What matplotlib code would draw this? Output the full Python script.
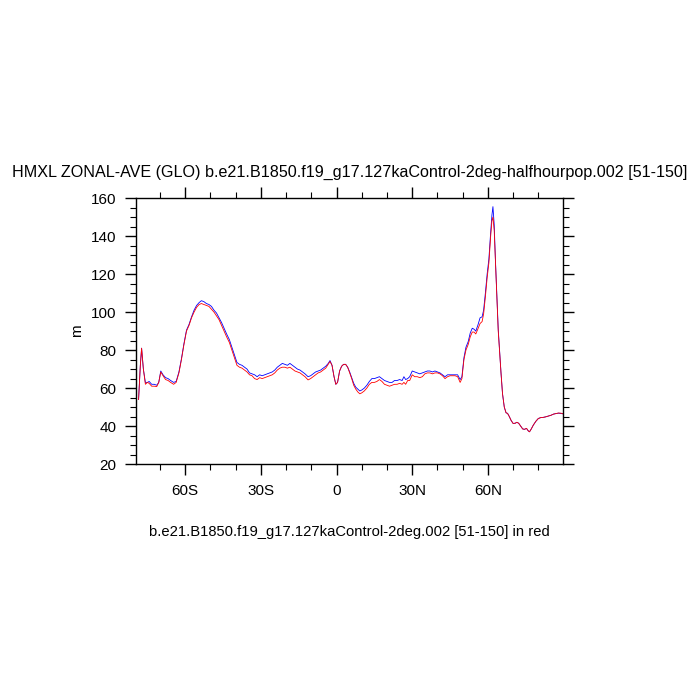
import numpy as np
import matplotlib.pyplot as plt
from matplotlib.ticker import MultipleLocator, FixedLocator

plt.rcParams['font.family'] = ['Liberation Sans', 'DejaVu Sans']

# ── данные: зональное среднее HMXL, м ─────────────────────────────────────
lat = [-78.5, -77.8, -77.3, -76.6, -75.8, -75.0, -74.3, -73.3, -72.3, -71.3,
       -70.5, -69.7, -68.8, -67.8, -66.8, -65.8, -64.6, -63.6, -62.5, -61.5,
       -60.5, -59.5, -58.5, -57.5, -56.5, -55.5, -54.5, -53.6, -52.6, -51.6,
       -50.6, -49.6, -48.6, -47.6, -46.6, -45.6, -44.6, -43.6, -42.5, -41.5,
       -40.5, -39.5, -38.5, -37.5, -36.5, -35.5, -34.5, -33.5, -32.5, -31.5,
       -30.5, -29.5, -28.5, -27.5, -26.5, -25.5, -24.5, -23.5, -22.5, -21.5,
       -20.5, -19.5, -18.5, -17.5, -16.5, -15.5, -14.5, -13.5, -12.5, -11.3,
       -10.3, -9.3, -8.3, -7.3, -6.3, -5.3, -4.3, -3.3, -2.6, -1.8,
       -1.0, -0.3, 0.4, 1.2, 2.0, 2.8, 3.6, 4.4, 5.2, 6.0,
       6.8, 7.6, 8.4, 9.2, 10.0, 11.0, 12.0, 13.0, 14.0, 15.0,
       16.0, 17.0, 18.0, 19.0, 20.0, 21.0, 22.0, 23.0, 24.0, 25.0,
       26.0, 26.7, 27.4, 28.2, 29.0, 30.0, 31.0, 32.0, 33.0, 34.0,
       35.0, 36.0, 37.0, 38.0, 39.0, 40.0, 41.0, 42.0, 43.0, 44.0,
       45.0, 46.0, 47.0, 48.0, 49.0, 49.7, 50.5, 51.3, 52.2, 53.0,
       53.8, 54.5, 55.2, 56.0, 56.9, 57.7, 58.3, 59.0, 59.7, 60.4,
       61.1, 61.6, 62.0, 62.5, 63.0, 63.5, 64.1, 64.7, 65.2, 65.8,
       66.5, 67.2, 67.8, 68.5, 69.2, 70.0, 70.8, 71.5, 72.2, 73.0,
       73.8, 74.5, 75.3, 76.0, 76.5, 77.2, 78.0, 79.0, 80.0, 81.0,
       82.0, 83.0, 84.0, 85.0, 86.0, 87.0, 88.0, 89.0, 89.7]

# контрольный прогон (красный)
hmxl_ctrl = [54, 72, 81, 70, 62, 63, 62.5, 61, 61, 60.8,
             63, 68.5, 66.5, 64.5, 64, 63, 62, 63, 68, 75,
             83, 90, 93, 97, 100, 102.5, 104, 104.5, 104, 103.5,
             103, 101.5, 100, 98, 96, 93, 90, 87, 84, 80,
             76, 72, 71, 70.5, 69.5, 68.5, 67, 66.5, 65, 64.5,
             65.5, 65, 65.5, 66, 66.5, 67, 68, 69.5, 70.5, 71,
             71, 70.5, 71, 70, 69, 68.5, 68, 67, 66, 64.3,
             65, 66, 67, 68, 68.5, 69.5, 70.5, 72.5, 74, 72,
             66, 62, 63, 69, 71.5, 72.5, 72.5, 71, 68, 65,
             61.5, 59.5, 58, 57, 57.5, 58.5, 60, 62, 63, 63,
             63.5, 64.5, 63.5, 62, 61.5, 61, 61.5, 62, 62, 62.5,
             62, 63, 62, 64, 64, 67, 66, 66, 65.5, 66,
             67.5, 68, 68, 67.5, 68, 68, 67.5, 66.5, 65, 66,
             66.5, 66.5, 66.5, 66, 63, 65, 75, 80, 83, 87,
             89.5, 89.5, 88.5, 91, 94, 95, 99, 108, 118, 126,
             140, 148, 150, 143, 126, 110, 90, 78, 68, 57,
             50, 47, 46.7, 45, 43, 41.4, 41.5, 42, 41.5, 40,
             38.5, 38.3, 38.8, 37.5, 37, 38.5, 40.5, 42.5, 44, 44.5,
             44.6, 44.9, 45.3, 45.7, 46.3, 46.6, 46.9, 46.8, 46.5]

# прогон halfhourpop (синий)
hmxl_hhp = [54, 72, 81, 70, 63, 63, 63.5, 62, 62, 61.5,
            63, 69, 67, 65.5, 65, 64, 63, 63.5, 68.5, 75.5,
            83.5, 90.5, 93.5, 97.5, 101, 103.5, 105, 106, 105.5, 104.5,
            104, 103, 101, 99.5, 97, 94.5, 91.5, 88.5, 85.5, 81.5,
            77.5, 73.5, 72.5, 72, 71, 70, 68, 67.5, 67, 66,
            67, 66.5, 67, 67.5, 68, 68.5, 69.5, 71, 72, 73,
            72.5, 72, 73, 72, 71, 70, 69.5, 68.5, 67.5, 66,
            66.5, 67.5, 68.5, 69, 69.5, 70.5, 71.5, 73, 74.5, 72,
            66, 62, 63, 69, 71.5, 72.5, 72.5, 71, 68.5, 65.5,
            62.5, 60.5, 59.5, 58.5, 59, 60, 61.5, 63.5, 65, 65,
            65.5, 66, 65, 64, 63.5, 63, 63, 64, 64, 64.5,
            64, 66, 64.5, 65, 66, 69, 68.5, 68, 67.5, 68,
            68.5, 69, 69, 68.5, 69, 68.5, 68, 67, 66, 67,
            67, 67, 67, 67, 64.5, 66, 76, 81.5, 84.5, 89,
            91.5, 91, 90, 93, 97, 97.5, 101, 110, 120, 128,
            142, 151, 155.5, 146, 127, 111, 91, 78, 68, 57,
            50, 47, 46.7, 45, 43, 41.4, 41.5, 42, 41.5, 40,
            38.5, 38.3, 38.8, 37.5, 37, 38.5, 40.5, 42.5, 44, 44.5,
            44.6, 44.9, 45.3, 45.7, 46.3, 46.6, 46.8, 46.6, 46.5]

xticks = [-60, -30, 0, 30, 60]
xtick_labels = ['60S', '30S', '0', '30N', '60N']
yticks = [20, 40, 60, 80, 100, 120, 140, 160]

fig = plt.figure(figsize=(7, 7), dpi=100)
ax = fig.add_axes([0.194, 0.337, 0.610, 0.380])

ax.plot(lat, hmxl_hhp, color='blue', lw=0.6)
ax.plot(lat, hmxl_ctrl, color='red', lw=0.6)

ax.set_xlim(-79.6, 89.7)
ax.set_ylim(20, 160)
ax.xaxis.set_major_locator(FixedLocator(xticks))
ax.set_xticklabels(xtick_labels)
ax.xaxis.set_minor_locator(MultipleLocator(10))
ax.yaxis.set_major_locator(FixedLocator(yticks))
ax.yaxis.set_minor_locator(MultipleLocator(5))

ax.tick_params(which='both', direction='out', top=True, right=True,
               labelsize=11, width=1, color='black')
ax.tick_params(which='major', length=8, pad=6)
ax.tick_params(which='minor', length=4, width=0.8)
for s in ax.spines.values():
    s.set_linewidth(1.0)

ax.set_ylabel('m', fontsize=11, labelpad=5)
ax.set_title('HMXL ZONAL-AVE (GLO) b.e21.B1850.f19_g17.127kaControl-2deg-halfhourpop.002 [51-150]',
             fontsize=11.6, pad=15)
ax.set_xlabel('b.e21.B1850.f19_g17.127kaControl-2deg.002 [51-150] in red',
              fontsize=10.6, labelpad=20)

fig.savefig('out.png', dpi=100)
